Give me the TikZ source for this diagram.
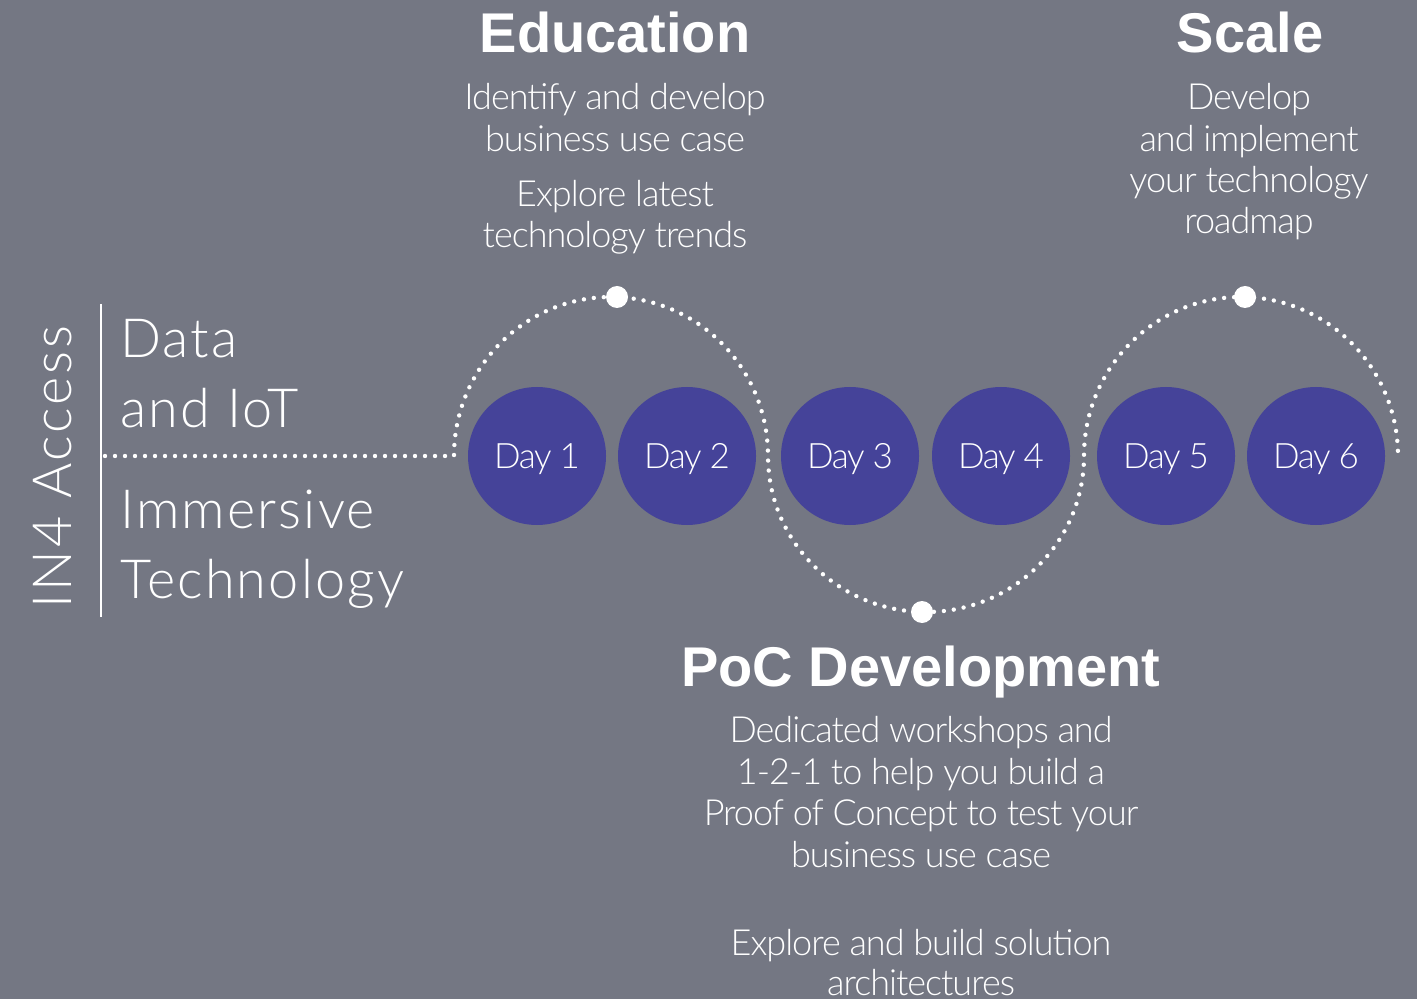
\documentclass[tikz,border=0pt]{standalone}
\usepackage{fontspec}
\setmainfont{Lato Light}
\newfontfamily\headfont{Liberation Sans}
\newfontfamily\bodyfont{Lato Light}[LetterSpace=-2.8]
\newfontfamily\dayfont{Lato Light}[LetterSpace=-4]
\newfontfamily\bigfont{Lato Light}[LetterSpace=4]
\newfontfamily\accessfont{Lato Light}[LetterSpace=5.5]
\definecolor{bg}{RGB}{116,119,131}
\definecolor{dayblue}{RGB}{69,67,153}
\tikzset{
  dotline/.style={white, line width=2.2pt, line cap=round, dash pattern=on 0pt off 5pt},
  day/.style={circle, fill=dayblue, minimum size=69pt, inner sep=0pt, text depth=0pt, text=white, font=\dayfont\fontsize{17.5}{20}\selectfont},
  bigdot/.style={circle, fill=white, minimum size=11pt, inner sep=0pt},
  head/.style={anchor=base, text=white, inner sep=0pt, font=\headfont\bfseries\fontsize{28}{32}\selectfont},
  body/.style={anchor=base, text=white, inner sep=0pt, font=\bodyfont\fontsize{18}{21}\selectfont},
  big/.style={anchor=base west, text=white, inner sep=0pt, font=\bigfont\fontsize{27}{30}\selectfont},
}
\begin{document}
\begin{tikzpicture}[x=0.5pt,y=-0.5pt]
\fill[bg] (0,0) rectangle (1417,999);
\useasboundingbox (0,0) rectangle (1417,999);
\clip (0,0) rectangle (1417,999);

% left block
\coordinate (vtop) at (101,304);
\coordinate (vbot) at (101,617);
\draw[white, line width=1.2pt] (vtop) -- (vbot);
\node[rotate=90, text=white, inner sep=0pt, font=\accessfont\fontsize{27}{30}\selectfont] (in4) at (53,467) {IN4 Access};
\node[big] (data) at (120,358) {Data};
\node[big] (iot) at (120,428) {and IoT};
\node[big] (imm) at (120,528) {Immersive};
\node[big] (tech) at (120,598) {Technology};

% dotted path
\coordinate (start) at (105,456);
\coordinate (a1) at (454,456);
\draw[dotline] (start) -- (a1)
  arc[start angle=180, end angle=0, x radius=78.5pt, y radius=79.5pt]
  arc[start angle=180, end angle=360, x radius=79pt, y radius=78pt]
  arc[start angle=180, end angle=0, x radius=78.5pt, y radius=79.5pt];

% big dots
\node[bigdot] (t1) at (617,297) {};
\node[bigdot] (b1) at (922,612) {};
\node[bigdot] (t2) at (1245,297) {};

% days
\node[day] (d1) at (537,456) {Day 1};
\node[day] (d2) at (687,456) {Day 2};
\node[day] (d3) at (850,456) {Day 3};
\node[day] (d4) at (1001,456) {Day 4};
\node[day] (d5) at (1166,456) {Day 5};
\node[day] (d6) at (1316,456) {Day 6};

% Education
\node[head] (edu) at (615,53) {Education};
\node[body] (e1) at (615,110) {Identify and develop};
\node[body] (e2) at (615,152) {business use case};
\node[body] (e3) at (615,207) {Explore latest};
\node[body] (e4) at (615,248) {technology trends};

% Scale
\node[head] (sc) at (1250,53) {Scale};
\node[body] (s1) at (1249,110) {Develop};
\node[body] (s2) at (1249,152) {and implement};
\node[body] (s3) at (1249,193) {your technology};
\node[body] (s4) at (1249,234) {roadmap};

% PoC
\node[head] (poc) at (921,686) {PoC Development};
\node[body] (p1) at (921,742) {Dedicated workshops and};
\node[body] (p2) at (921,784) {1-2-1 to help you build a};
\node[body] (p3) at (921,825) {Proof of Concept to test your};
\node[body] (p4) at (921,867) {business use case};
\node[body] (p5) at (921,955) {Explore and build solution};
\node[body] (p6) at (921,995) {architectures};
\end{tikzpicture}
\end{document}
